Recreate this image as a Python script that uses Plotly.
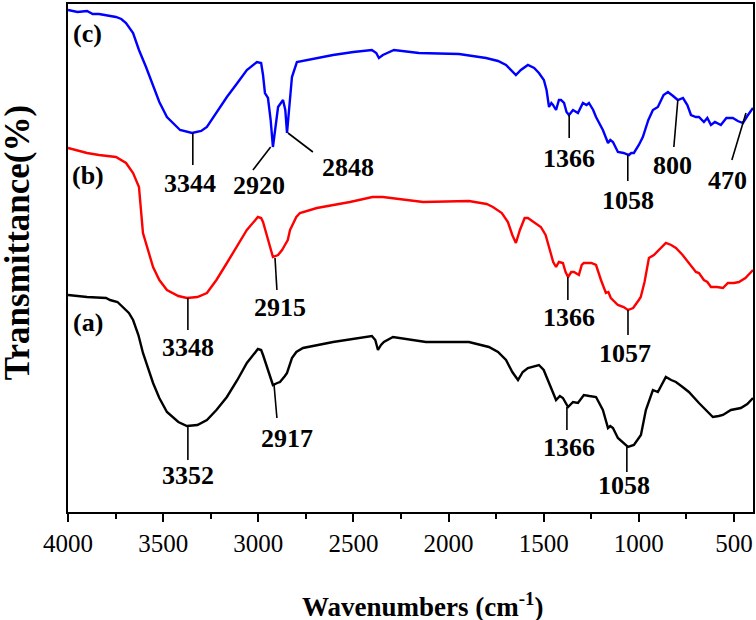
import plotly.graph_objects as go

# ---------------- data (wavenumber, relative transmittance with offsets) ----------------
wn_c = [4000, 3950, 3900, 3870, 3837, 3800, 3748, 3720, 3695, 3658, 3627, 3590, 3550, 3520, 3480, 3411, 3348, 3300, 3270,
        3220, 3165, 3110, 3060, 3007, 2985, 2975, 2965, 2949, 2935, 2923, 2910, 2896, 2870, 2858, 2849, 2838,
        2823, 2797, 2744, 2700, 2607, 2500, 2403, 2380, 2366, 2345, 2287, 2156, 1945, 1803, 1740, 1698, 1670,
        1646, 1620, 1583, 1550, 1525, 1499, 1485, 1472, 1460, 1451, 1435, 1420, 1409, 1393, 1380, 1367, 1346,
        1320, 1294, 1275, 1262, 1240, 1225, 1189, 1162, 1150, 1136, 1110, 1080, 1052, 1040, 1026, 1000, 979,
        950, 926, 900, 870, 847, 820, 795, 768, 745, 726, 700, 684, 670, 658, 640, 621, 600, 569, 540, 506,
        480, 453, 430, 400]
t_c = [502, 500, 501, 498, 498, 497, 495, 493, 489, 479, 462, 445, 425, 410, 395, 382, 379, 381, 385,
       399, 415, 429, 442, 450, 449, 437, 419, 414, 392, 365, 382, 405, 412, 402, 379, 402,
       435, 450, 452, 453, 457, 460, 462, 459, 454, 457, 462, 459, 458, 454, 451, 447, 442,
       437, 442, 447, 444, 439, 432, 422, 405, 409, 407, 402, 412, 412, 409, 400, 397, 402,
       399, 409, 407, 409, 402, 395, 382, 369, 372, 370, 360, 359, 357, 359, 359, 367, 375,
       392, 402, 405, 417, 420, 416, 412, 414, 407, 397, 395, 395, 392, 390, 394, 387, 390, 387, 394, 394,
       391, 389, 396, 404]

wn_b = [4000, 3940, 3900, 3837, 3800, 3748, 3695, 3658, 3627, 3622, 3606, 3553, 3520, 3480, 3420, 3375, 3320, 3270,
        3220, 3165, 3110, 3060, 3002, 2985, 2975, 2950, 2923, 2896, 2875, 2860, 2845, 2833, 2800, 2781,
        2692, 2518, 2400, 2376, 2345, 2134, 1893, 1800, 1767, 1720, 1688, 1665, 1646, 1625, 1600, 1583,
        1550, 1515, 1490, 1472, 1450, 1435, 1420, 1399, 1385, 1372, 1355, 1341, 1315, 1300, 1289, 1250,
        1225, 1199, 1173, 1160, 1147, 1110, 1080, 1057, 1030, 1000, 990, 970, 947, 921, 895, 858, 830,
        805, 770, 737, 700, 684, 658, 640, 621, 590, 558, 532, 500, 474, 440, 400]
t_b = [364, 361, 359, 357, 356, 355, 349, 339, 325, 312, 279, 245, 232, 222, 216, 214, 215, 219,
       232, 249, 267, 282, 295, 294, 290, 272, 255, 257, 262, 267, 272, 282, 295, 299,
       304, 310, 315, 315, 315, 310, 311, 308, 305, 299, 290, 277, 269, 282, 294, 294,
       290, 285, 277, 265, 250, 245, 250, 249, 240, 235, 240, 240, 237, 247, 249, 249,
       247, 232, 219, 220, 214, 207, 205, 202, 204, 212, 215, 230, 254, 257, 262, 269, 267,
       264, 257, 249, 240, 239, 232, 230, 225, 225, 224, 229, 229, 230, 234, 242]

wn_a = [4000, 3900, 3800, 3779, 3740, 3711, 3680, 3658, 3630, 3606, 3553, 3520, 3480, 3420, 3375, 3320,
        3270, 3220, 3165, 3110, 3060, 3002, 2985, 2975, 2950, 2923, 2900, 2886, 2860, 2849, 2823, 2800,
        2765, 2607, 2403, 2385, 2371, 2355, 2340, 2292, 2119, 1893, 1788, 1740, 1698, 1665, 1635, 1610,
        1583, 1525, 1500, 1478, 1455, 1435, 1415, 1399, 1372, 1346, 1320, 1289, 1260, 1225, 1189, 1162,
        1150, 1136, 1110, 1080, 1057, 1026, 989, 963, 926, 900, 858, 830, 805, 770, 737, 684, 647, 611,
        580, 558, 516, 464, 430, 400]
t_a = [217, 215, 214, 212, 210, 205, 199, 192, 177, 159, 129, 114, 100, 90, 86, 87,
       92, 102, 115, 132, 149, 163, 162, 157, 142, 127, 129, 130, 136, 139, 154, 160,
       164, 170, 176, 172, 162, 167, 170, 175, 170, 170, 165, 160, 152, 140, 132, 140,
       144, 147, 142, 132, 120, 112, 116, 114, 105, 110, 109, 117, 116, 115, 102, 84,
       86, 84, 74, 69, 65, 67, 77, 102, 122, 120, 135, 132, 130, 125, 120, 109, 102, 95,
       96, 97, 102, 104, 108, 114]

tick_vals = [4000, 3500, 3000, 2500, 2000, 1500, 1000, 500]
sample_names = ["(a)", "(b)", "(c)"]

# peak label: (text, line start x,y, line end x,y, text x,y)
peak_marks = [
    ("3344", 3344, 379, 3344, 347, 3360, 329),
    ("2920", 2935, 365, 3028, 342, 2995, 327),
    ("2848", 2844, 379, 2713, 360, 2529, 345),
    ("1366", 1366, 397, 1366, 374, 1366, 354),
    ("1058", 1058, 357, 1058, 331, 1058, 312),
    ("800", 795, 412, 816, 365, 821, 347),
    ("470", 437, 399, 511, 352, 532, 332),
    ("3348", 3370, 214, 3370, 182, 3370, 165),
    ("2915", 2912, 254, 2902, 222, 2886, 205),
    ("1366", 1373, 235, 1373, 212, 1366, 195),
    ("1057", 1057, 202, 1057, 177, 1073, 159),
    ("3352", 3370, 86, 3370, 52, 3370, 37),
    ("2917", 2917, 127, 2902, 94, 2849, 74),
    ("1366", 1378, 105, 1378, 82, 1366, 65),
    ("1058", 1063, 65, 1063, 40, 1078, 27),
]

FONT = "Liberation Serif"

fig = go.Figure()
for wn, t, col in [(wn_a, t_a, "#000000"), (wn_b, t_b, "#ff0000"), (wn_c, t_c, "#0000ff")]:
    fig.add_trace(go.Scatter(x=wn, y=t, mode="lines", line=dict(color=col, width=2.4),
                             showlegend=False, hoverinfo="skip"))

for txt, x0, y0, x1, y1, xt, yt in peak_marks:
    fig.add_shape(type="line", x0=x0, y0=y0, x1=x1, y1=y1, xref="x", yref="y",
                  line=dict(color="black", width=1.6))
    fig.add_annotation(x=xt, y=yt, text="<b>%s</b>" % txt, showarrow=False, xref="x", yref="y",
                       font=dict(family=FONT, size=26, color="black"), xanchor="center", yanchor="middle")

for name, yv in zip(sample_names, [190, 337, 479]):
    fig.add_annotation(x=3895, y=yv, text="<b>%s</b>" % name, showarrow=False, xref="x", yref="y",
                       font=dict(family=FONT, size=26, color="black"), xanchor="center", yanchor="middle")

fig.add_annotation(x=-0.0745, y=0.531, xref="paper", yref="paper", text="<b>Transmittance(%)</b>",
                   textangle=-90, showarrow=False, font=dict(family=FONT, size=35, color="black"),
                   xanchor="center", yanchor="middle")
fig.add_annotation(x=0.518, y=-0.184, xref="paper", yref="paper",
                   text="<b>Wavenumbers (cm<sup>-1</sup>)</b>", showarrow=False,
                   font=dict(family=FONT, size=27, color="black"), xanchor="center", yanchor="middle")

fig.update_layout(
    width=756, height=620,
    margin=dict(l=68, r=3, t=4, b=108, autoexpand=False),
    paper_bgcolor="white", plot_bgcolor="white",
    font=dict(family=FONT, color="black"),
    xaxis=dict(range=[4000, 400], tickvals=tick_vals, ticks="outside", ticklen=8, tickwidth=1.6,
               tickcolor="black", showline=True, linewidth=2, linecolor="black", mirror=True,
               showgrid=False, zeroline=False, tickfont=dict(family=FONT, size=25, color="black"),
               automargin=False,
               minor=dict(dtick=250, tick0=0, ticks="outside", ticklen=5, tickwidth=1.6, tickcolor="black",
                          showgrid=False)),
    yaxis=dict(range=[0, 508], showticklabels=False, ticks="", showline=True, linewidth=2,
               linecolor="black", mirror=True, showgrid=False, zeroline=False, automargin=False),
)

fig.write_html("out.html", config={"displayModeBar": False},
               post_script="document.body.style.margin='0px';document.body.style.overflow='hidden';")
